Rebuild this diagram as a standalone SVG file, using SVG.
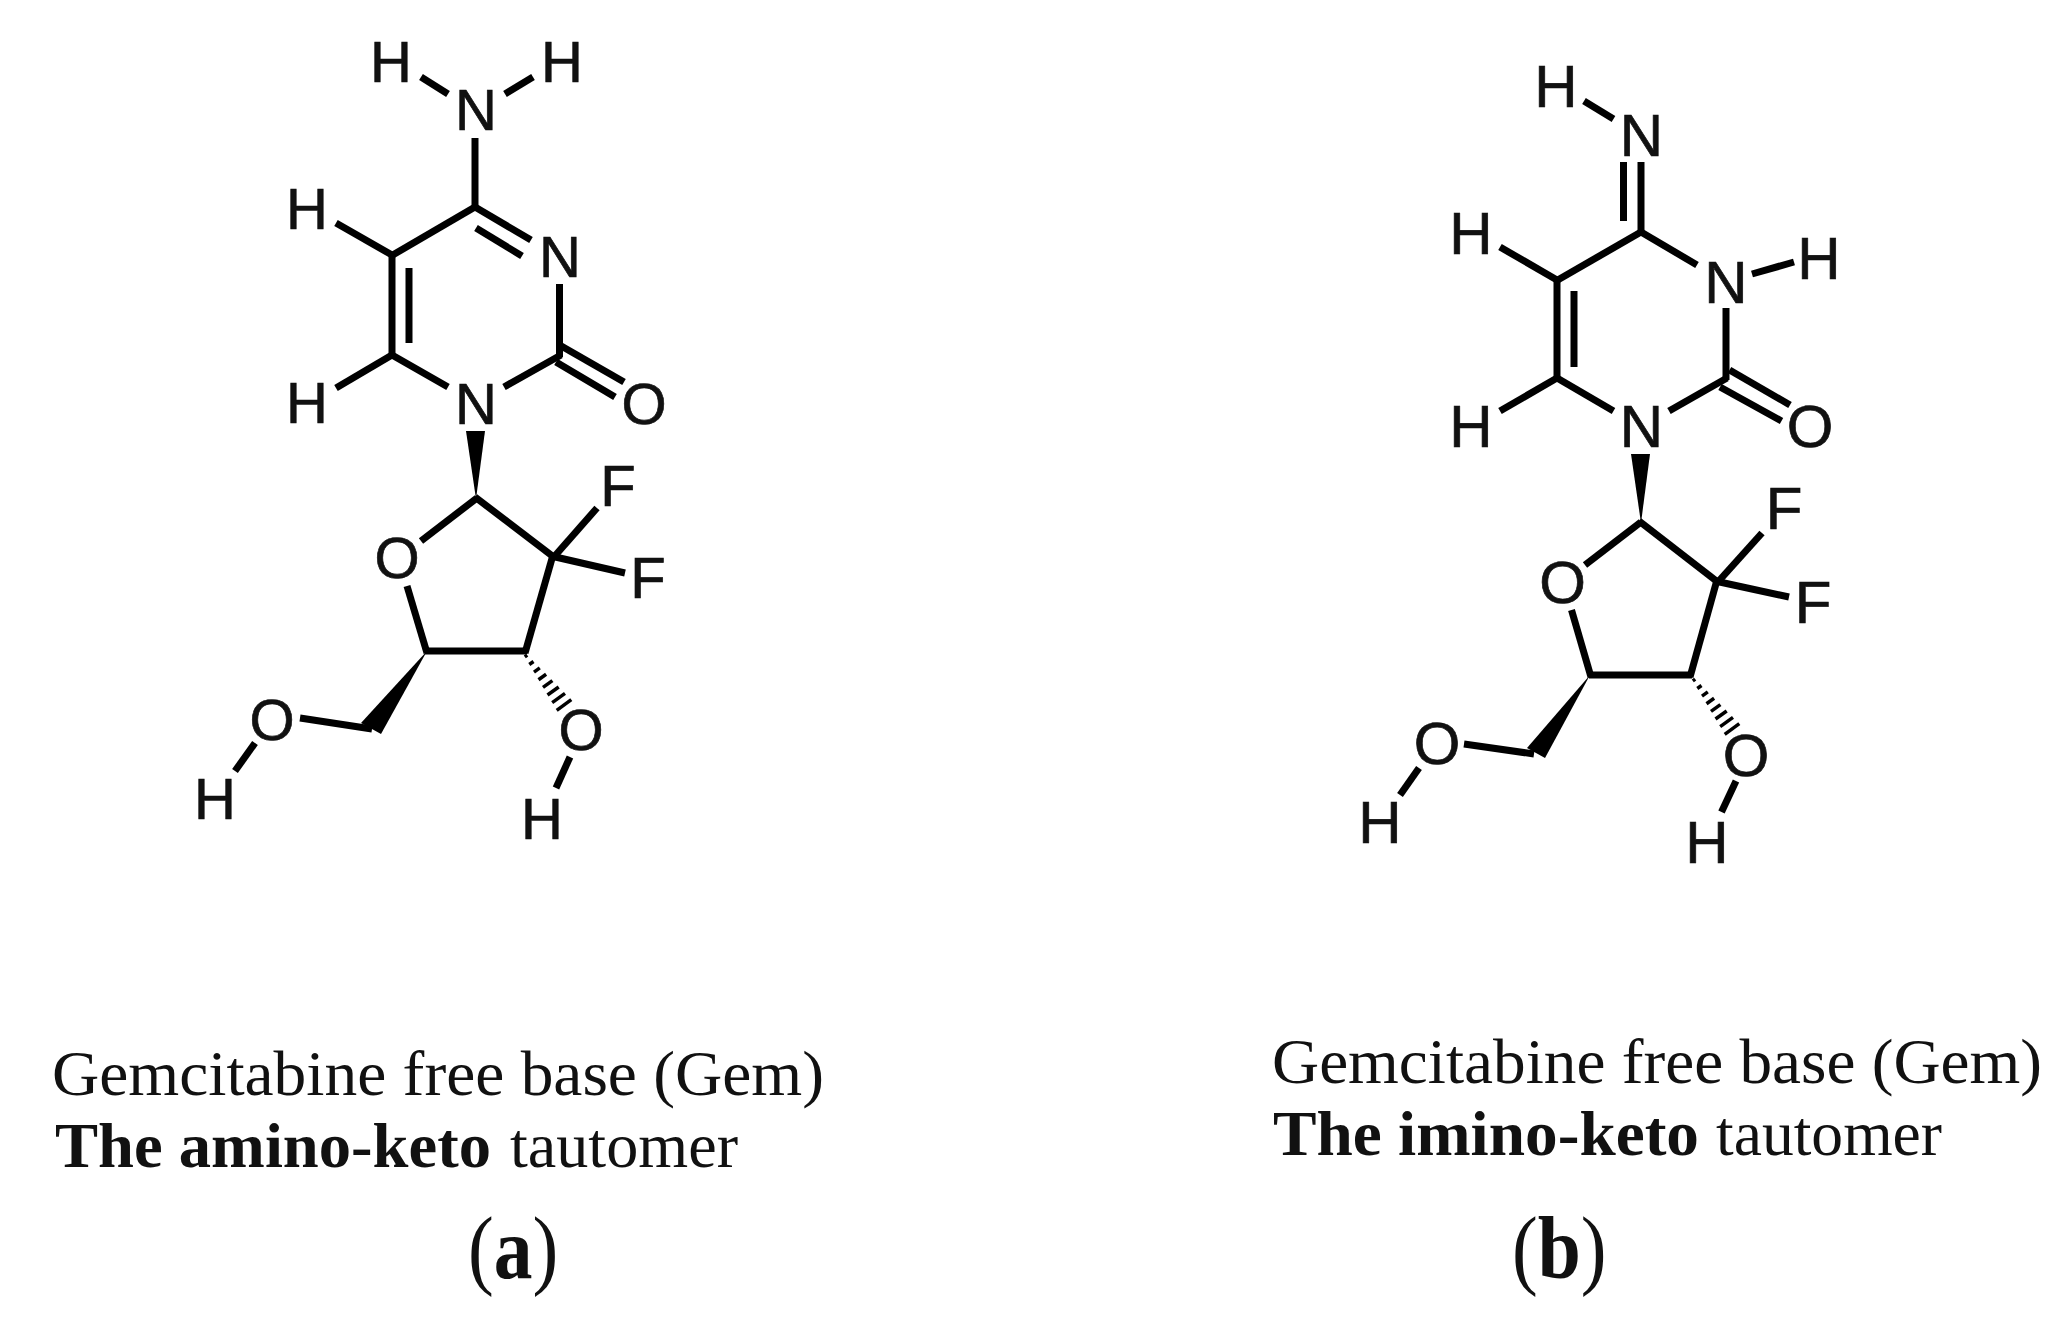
<svg xmlns="http://www.w3.org/2000/svg" xmlns:xlink="http://www.w3.org/1999/xlink" width="2072" height="1317" viewBox="0 0 2072 1317">
<style>
.a{font-family:"Liberation Sans",Arial,sans-serif;font-size:58px;fill:#111;stroke:#111;stroke-width:.7px;text-anchor:middle}
.b .a{font-size:60px}
.c{font-family:"Liberation Serif","Times New Roman",serif;font-size:64px;fill:#111}
.l{font-family:"Liberation Serif","Times New Roman",serif;font-size:88px;fill:#111}
.s{font-weight:bold}
.k line{stroke:#000;stroke-width:7;stroke-linecap:butt;fill:none}
.k polygon{fill:#000}
.h line{stroke:#000;stroke-width:3.5;fill:none}
</style>
<defs>
<g id="hash" class="h">
<line x1="525.8" y1="657.9" x2="528.2" y2="656.1"/>
<line x1="530.3" y1="665.5" x2="534.5" y2="662.5"/>
<line x1="535" y1="673.1" x2="540.8" y2="668.9"/>
<line x1="539.5" y1="680.7" x2="547.1" y2="675.3"/>
<line x1="544" y1="688.4" x2="553.4" y2="681.6"/>
<line x1="548.5" y1="696" x2="559.7" y2="688"/>
<line x1="553.2" y1="703.6" x2="566" y2="694.4"/>
<line x1="557.7" y1="711.3" x2="572.3" y2="700.7"/>
</g>
</defs>
<rect width="2072" height="1317" fill="#fff"/>
<g id="connectors" class="k">
<g id="bonds-a">
<line x1="421" y1="77" x2="448" y2="94"/>
<line x1="533" y1="77" x2="505" y2="94"/>
<line x1="475" y1="138" x2="475" y2="209"/>
<line x1="475" y1="207" x2="391" y2="256"/>
<line x1="475" y1="207" x2="531" y2="240"/>
<line x1="476" y1="228" x2="522" y2="256"/>
<line x1="392" y1="253" x2="392" y2="357"/>
<line x1="409" y1="268" x2="409" y2="343"/>
<line x1="336" y1="223" x2="392" y2="255"/>
<line x1="336" y1="388" x2="392" y2="355"/>
<line x1="392" y1="355" x2="448" y2="387"/>
<line x1="504" y1="387" x2="561" y2="355"/>
<line x1="559.5" y1="284" x2="559.5" y2="357"/>
<line x1="559.5" y1="345" x2="624" y2="382"/>
<line x1="556" y1="362" x2="615" y2="397"/>
<polygon points="466,431 485,431 476,499"/>
<line x1="477" y1="498" x2="421" y2="541"/>
<line x1="475" y1="497" x2="555" y2="558"/>
<line x1="553" y1="555" x2="525" y2="653"/>
<line x1="527" y1="651" x2="425" y2="651"/>
<line x1="407" y1="586" x2="427" y2="653"/>
<line x1="553" y1="558" x2="597" y2="508"/>
<line x1="551" y1="556" x2="625" y2="573"/>
<polygon points="427,651 381,734 361,723"/>
<line x1="300" y1="718" x2="372" y2="729"/>
<line x1="255" y1="743" x2="235" y2="771"/>
<use href="#hash" xlink:href="#hash" transform="translate(-1,-1)"/>
<line x1="570" y1="757" x2="556" y2="788"/>
</g>
<g id="bonds-b">
<line x1="1584" y1="101" x2="1613.5" y2="119"/>
<line x1="1641" y1="162" x2="1641" y2="234"/>
<line x1="1623.5" y1="162" x2="1623.5" y2="221"/>
<line x1="1641" y1="232" x2="1556" y2="281"/>
<line x1="1641" y1="232" x2="1697" y2="265"/>
<line x1="1752" y1="274" x2="1794" y2="262"/>
<line x1="1500" y1="247" x2="1557" y2="280"/>
<line x1="1500" y1="411" x2="1557" y2="378"/>
<line x1="1557" y1="278" x2="1557" y2="380"/>
<line x1="1574" y1="291" x2="1574" y2="367"/>
<line x1="1557" y1="378" x2="1613.5" y2="411"/>
<line x1="1669" y1="411" x2="1727" y2="378"/>
<line x1="1726" y1="308" x2="1726" y2="380"/>
<line x1="1729.5" y1="370" x2="1790" y2="405"/>
<line x1="1720" y1="387" x2="1781.5" y2="421"/>
<polygon points="1631,454 1650,454 1641,523"/>
<line x1="1641" y1="522" x2="1585" y2="565"/>
<line x1="1639" y1="521" x2="1719" y2="583"/>
<line x1="1717" y1="580" x2="1690" y2="677"/>
<line x1="1692" y1="675" x2="1589" y2="675"/>
<line x1="1571.5" y1="610" x2="1591" y2="677"/>
<line x1="1717" y1="583" x2="1762" y2="533"/>
<line x1="1715" y1="581" x2="1789" y2="597"/>
<polygon points="1590,675 1545,758 1527,748"/>
<line x1="1464" y1="744" x2="1534" y2="754"/>
<line x1="1419" y1="768" x2="1400" y2="795"/>
<use href="#hash" xlink:href="#hash" transform="translate(1167,23)"/>
<line x1="1736" y1="781" x2="1721.5" y2="812"/>
</g>
</g>
<g id="molecule-a">
<g id="a-H1"><text class="a" x="391" y="82">H</text></g>
<g id="a-H2"><text class="a" x="562" y="82">H</text></g>
<g id="a-N4"><text class="a" x="476" y="130">N</text></g>
<g id="a-N3"><text class="a" x="560" y="277">N</text></g>
<g id="a-H5"><text class="a" x="307" y="229">H</text></g>
<g id="a-H6"><text class="a" x="307" y="423">H</text></g>
<g id="a-N1"><text class="a" x="476" y="424">N</text></g>
<g id="a-O2"><text class="a" x="644" y="424">O</text></g>
<g id="a-O4p"><text class="a" x="397" y="578">O</text></g>
<g id="a-F1"><text class="a" x="618" y="506">F</text></g>
<g id="a-F2"><text class="a" x="648" y="598">F</text></g>
<g id="a-O5p"><text class="a" x="272" y="740">O</text></g>
<g id="a-H5p"><text class="a" x="215" y="819">H</text></g>
<g id="a-O3p"><text class="a" x="581" y="750">O</text></g>
<g id="a-H3p"><text class="a" x="542" y="839">H</text></g>
</g>
<g id="molecule-b" class="b">
<g id="b-H1"><text class="a" x="1556" y="107">H</text></g>
<g id="b-N4"><text class="a" x="1641.5" y="156">N</text></g>
<g id="b-N3"><text class="a" x="1726" y="303">N</text></g>
<g id="b-H3"><text class="a" x="1819" y="279">H</text></g>
<g id="b-H5"><text class="a" x="1471" y="254">H</text></g>
<g id="b-H6"><text class="a" x="1471" y="447">H</text></g>
<g id="b-N1"><text class="a" x="1641.5" y="447">N</text></g>
<g id="b-O2"><text class="a" x="1810" y="447">O</text></g>
<g id="b-O4p"><text class="a" x="1562.5" y="603">O</text></g>
<g id="b-F1"><text class="a" x="1784" y="529">F</text></g>
<g id="b-F2"><text class="a" x="1813" y="623">F</text></g>
<g id="b-O5p"><text class="a" x="1437" y="764">O</text></g>
<g id="b-H5p"><text class="a" x="1380" y="843">H</text></g>
<g id="b-O3p"><text class="a" x="1746" y="776">O</text></g>
<g id="b-H3p"><text class="a" x="1707" y="863">H</text></g>
</g>
<g id="caption-a">
<text class="c" x="52" y="1095" textLength="772" lengthAdjust="spacingAndGlyphs">Gemcitabine free base (Gem)</text>
<text class="c s" x="55" y="1167" textLength="436" lengthAdjust="spacingAndGlyphs">The amino-keto</text>
<text class="c" x="510" y="1167" textLength="228" lengthAdjust="spacingAndGlyphs">tautomer</text>
<text class="l" transform="translate(468,1278) scale(.88,1)">(<tspan class="s">a</tspan>)</text>
</g>
<g id="caption-b">
<text class="c" x="1272" y="1083" textLength="770" lengthAdjust="spacingAndGlyphs">Gemcitabine free base (Gem)</text>
<text class="c s" x="1273" y="1155" textLength="426" lengthAdjust="spacingAndGlyphs">The imino-keto</text>
<text class="c" x="1716" y="1155" textLength="226" lengthAdjust="spacingAndGlyphs">tautomer</text>
<text class="l" transform="translate(1512,1278) scale(.88,1)">(<tspan class="s">b</tspan>)</text>
</g>
</svg>
